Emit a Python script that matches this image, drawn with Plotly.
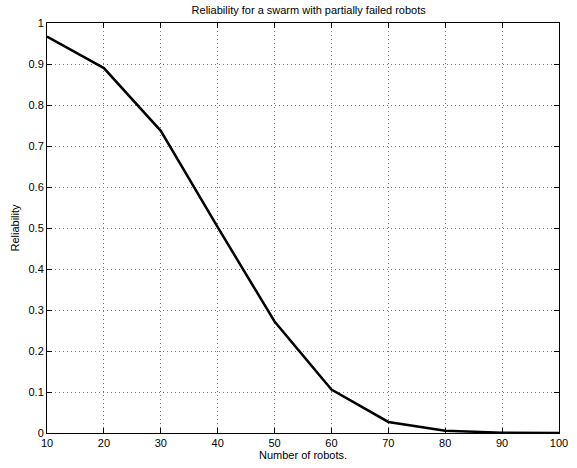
import plotly.graph_objects as go

# Swarm size vs. reliability when some robots have partially failed
num_robots = [10, 20, 30, 40, 50, 60, 70, 80, 90, 100]
reliability = [0.967, 0.890, 0.737, 0.502, 0.272, 0.106, 0.027, 0.0055, 0.0008, 0.0001]

x_ticks = list(range(10, 101, 10))
y_ticks = [round(0.1 * i, 1) for i in range(11)]
y_tick_text = ["0", "0.1", "0.2", "0.3", "0.4", "0.5", "0.6", "0.7", "0.8", "0.9", "1"]

font_family = "Liberation Sans, Arial, Helvetica, sans-serif"

fig = go.Figure()
fig.add_trace(go.Scatter(
    x=num_robots, y=reliability, mode="lines",
    line=dict(color="black", width=2.5),
    showlegend=False,
))

axis_common = dict(
    showline=True, linecolor="black", linewidth=1, mirror="ticks",
    ticks="inside", ticklen=5, tickcolor="black",
    showgrid=True, gridcolor="#7a7a7a", griddash="1px,3px", gridwidth=1,
    zeroline=False, ticklabeloverflow="allow",
    tickfont=dict(family=font_family, size=11, color="black"),
)

fig.update_layout(
    width=577, height=468,
    margin=dict(l=47, r=9, t=23, b=35),
    paper_bgcolor="white", plot_bgcolor="white",
    title=dict(
        text="Reliability for a swarm with partially failed robots",
        x=0.535, xanchor="center", y=0.978, yanchor="middle",
        font=dict(family=font_family, size=11, color="black"),
    ),
    xaxis=dict(
        range=[10, 100], tickvals=x_ticks,
        title=dict(text="Number of robots.", standoff=2,
                   font=dict(family=font_family, size=11, color="black")),
        **axis_common,
    ),
    yaxis=dict(
        range=[0, 1], tickvals=y_ticks, ticktext=y_tick_text,
        title=dict(text="Reliability", standoff=6,
                   font=dict(family=font_family, size=11, color="black")),
        **axis_common,
    ),
)

fig.write_html("out.html")
